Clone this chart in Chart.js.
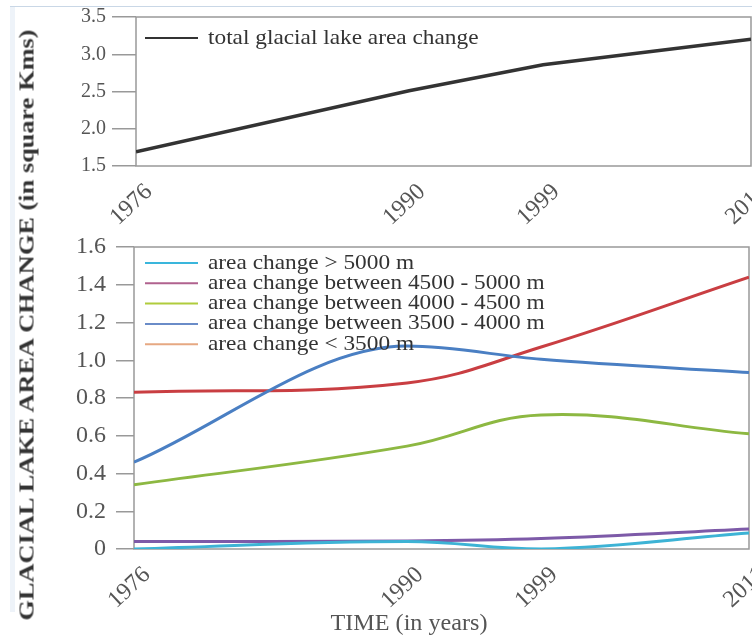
<!DOCTYPE html>
<html>
<head>
<meta charset="utf-8">
<script src="https://cdn.jsdelivr.net/npm/chart.js@4.4.1/dist/chart.umd.min.js"></script>
<style>
  html, body { margin: 0; padding: 0; background: #fff; width: 752px; height: 639px; overflow: hidden; position: relative; }
  #frameTop { position: absolute; left: 10px; top: 6px; right: 0; height: 1px; background: #c9d7e6; }
  #frameLeft { position: absolute; left: 10px; top: 7px; width: 5px; height: 605px; background: #eef3f9; }
  #topWrap { position: absolute; left: 0; top: 0; width: 770px; height: 230px; }
  #botWrap { position: absolute; left: 0; top: 230px; width: 770px; height: 409px; }
  #yTitle { position: absolute; left: 27px; top: 325px; transform: translate(-50%, -50%) rotate(-90deg) scaleX(1.255); white-space: nowrap;
            font: bold 21px "Liberation Serif", serif; color: #333; }
  #xTitle { position: absolute; left: 409px; top: 623px; transform: translate(-50%, -50%) scaleX(1.05); white-space: nowrap;
            font: 23px "Liberation Serif", serif; color: #555; }
</style>
</head>
<body>
<div id="frameTop"></div>
<div id="frameLeft"></div>
<div id="topWrap"><canvas id="topChart" width="770" height="230"></canvas></div>
<div id="botWrap"><canvas id="botChart" width="770" height="409"></canvas></div>
<div id="yTitle">GLACIAL LAKE AREA CHANGE (in square Kms)</div>
<div id="xTitle">TIME (in years)</div>
<script>
// years on the x axis
const years = [1976, 1990, 1999, 2011];

// top panel
const totalLabel = 'total glacial lake area change';
const totalArea = [1.69, 2.51, 2.86, 3.2];
const topTicks = [1.5, 2.0, 2.5, 3.0, 3.5];

// bottom panel
const zoneLabels = [
    'area change > 5000 m',
    'area change between 4500 - 5000 m',
    'area change between 4000 - 4500 m',
    'area change between 3500 - 4000 m',
    'area change < 3500 m'
];
const above5000 = [0.0, 0.04, 0.0, 0.085];
const from4500to5000 = [0.04, 0.042, 0.055, 0.106];
const from4000to4500 = [0.34, 0.545, 0.71, 0.61];
const from3500to4000 = [0.46, 1.075, 1.005, 0.935];
const below3500 = [0.83, 0.88, 1.07, 1.44];
const botTicks = [0, 0.2, 0.4, 0.6, 0.8, 1.0, 1.2, 1.4, 1.6];

const lineColors = ['#3db3d5', '#7d5aa8', '#8db842', '#4a7fc3', '#c93e42'];
const legendColors = ['#3ab6dc', '#b0628e', '#b0cc3c', '#6a8cc8', '#e6a882'];
const curveModes = ['default', 'default', 'default', 'monotone', 'default'];

// the original figure does not space the years evenly: where each year sits along the axis (0..1)
const yearSpots = [0, 0.444, 0.662, 1];

class YearScale extends Chart.LinearScale {
    getPixelForValue(value) {
        let i = 0;
        while (i < years.length - 2 && value > years[i + 1]) i++;
        const t = (value - years[i]) / (years[i + 1] - years[i]);
        return this.getPixelForDecimal(yearSpots[i] + t * (yearSpots[i + 1] - yearSpots[i]));
    }
    getValueForPixel(pixel) {
        const d = this.getDecimalForPixel(pixel);
        let i = 0;
        while (i < years.length - 2 && d > yearSpots[i + 1]) i++;
        const t = (d - yearSpots[i]) / (yearSpots[i + 1] - yearSpots[i]);
        return years[i] + t * (years[i + 1] - years[i]);
    }
}
YearScale.id = 'yearScale';
YearScale.defaults = Chart.LinearScale.defaults;
Chart.register(YearScale);

const serif = '"Liberation Serif", "Times New Roman", serif';
const pts = vals => years.map((yr, i) => ({ x: yr, y: vals[i] }));

const framePlugin = {
    id: 'frame',
    beforeDatasetsDraw(chart) {
        const a = chart.chartArea, ctx = chart.ctx;
        ctx.save();
        ctx.strokeStyle = '#999';
        ctx.lineWidth = 1.5;
        ctx.strokeRect(a.left, a.top, a.right - a.left, a.bottom - a.top);
        ctx.restore();
    }
};

// legend drawn inside the plot box
const boxLegend = {
    id: 'boxLegend',
    afterDraw(chart, args, opts) {
        const a = chart.chartArea, ctx = chart.ctx;
        ctx.save();
        ctx.font = opts.size + 'px ' + serif;
        ctx.textBaseline = 'middle';
        opts.labels.forEach((txt, i) => {
            const y = a.top + opts.top + i * opts.step;
            ctx.strokeStyle = opts.colors[i];
            ctx.lineWidth = opts.lineWidth;
            ctx.beginPath();
            ctx.moveTo(145, y);
            ctx.lineTo(198, y);
            ctx.stroke();
            ctx.save();
            ctx.translate(208, y);
            ctx.scale(opts.stretch, 1);
            ctx.fillStyle = '#333';
            ctx.fillText(txt, 0, 0);
            ctx.restore();
        });
        ctx.restore();
    }
};

function xScale(height) {
    return {
        type: 'yearScale', min: 1976, max: 2011,
        afterBuildTicks: s => { s.ticks = years.map(v => ({ value: v })); },
        afterFit: s => { s.height = height; s.paddingLeft = 0; s.paddingRight = 0; },
        grid: { display: false, drawTicks: false },
        border: { display: false },
        ticks: {
            minRotation: 43, maxRotation: 43, labelOffset: 13, padding: 12,
            color: '#555', font: { family: serif, size: 24 },
            callback: v => String(v)
        }
    };
}

function yScale(min, max, tickVals, width, tickLen, pad, size, fmt) {
    return {
        min: min, max: max,
        afterBuildTicks: s => { s.ticks = tickVals.map(v => ({ value: v })); },
        afterFit: s => { s.width = width; s.paddingTop = 0; s.paddingBottom = 0; },
        grid: { drawOnChartArea: false, tickLength: tickLen, color: '#999', lineWidth: 1.5 },
        border: { display: false },
        ticks: { padding: pad, color: '#555', font: { family: serif, size: size }, callback: fmt }
    };
}

new Chart(document.getElementById('topChart'), {
    type: 'line',
    data: {
        datasets: [{
            label: totalLabel, data: pts(totalArea),
            borderColor: '#333', borderWidth: 3.5, pointRadius: 0, tension: 0
        }]
    },
    options: {
        responsive: false, animation: false,
        layout: { padding: { top: 17, right: 19, left: 0, bottom: 0 } },
        plugins: {
            legend: { display: false }, tooltip: { enabled: false },
            boxLegend: { labels: [totalLabel], colors: ['#333'], size: 21, stretch: 1.11, top: 21, step: 20, lineWidth: 2 }
        },
        scales: {
            x: xScale(64),
            y: yScale(1.5, 3.5, topTicks, 136, 24, 6, 20, v => v.toFixed(1))
        }
    },
    plugins: [framePlugin, boxLegend]
});

const zoneData = [above5000, from4500to5000, from4000to4500, from3500to4000, below3500];

new Chart(document.getElementById('botChart'), {
    type: 'line',
    data: {
        datasets: zoneData.map((vals, i) => ({
            label: zoneLabels[i], data: pts(vals),
            borderColor: lineColors[i], borderWidth: 3, pointRadius: 0,
            tension: 0.4, cubicInterpolationMode: curveModes[i]
        }))
    },
    options: {
        responsive: false, animation: false,
        layout: { padding: { top: 17, right: 21, left: 0, bottom: 0 } },
        plugins: {
            legend: { display: false }, tooltip: { enabled: false },
            boxLegend: { labels: zoneLabels, colors: legendColors, size: 21, stretch: 1.11, top: 16, step: 20.3, lineWidth: 2 }
        },
        scales: {
            x: xScale(90),
            y: yScale(0, 1.6, botTicks, 134, 18, 10, 24, v => v === 0 ? '0' : v.toFixed(1))
        }
    },
    plugins: [framePlugin, boxLegend]
});
</script>
</body>
</html>
